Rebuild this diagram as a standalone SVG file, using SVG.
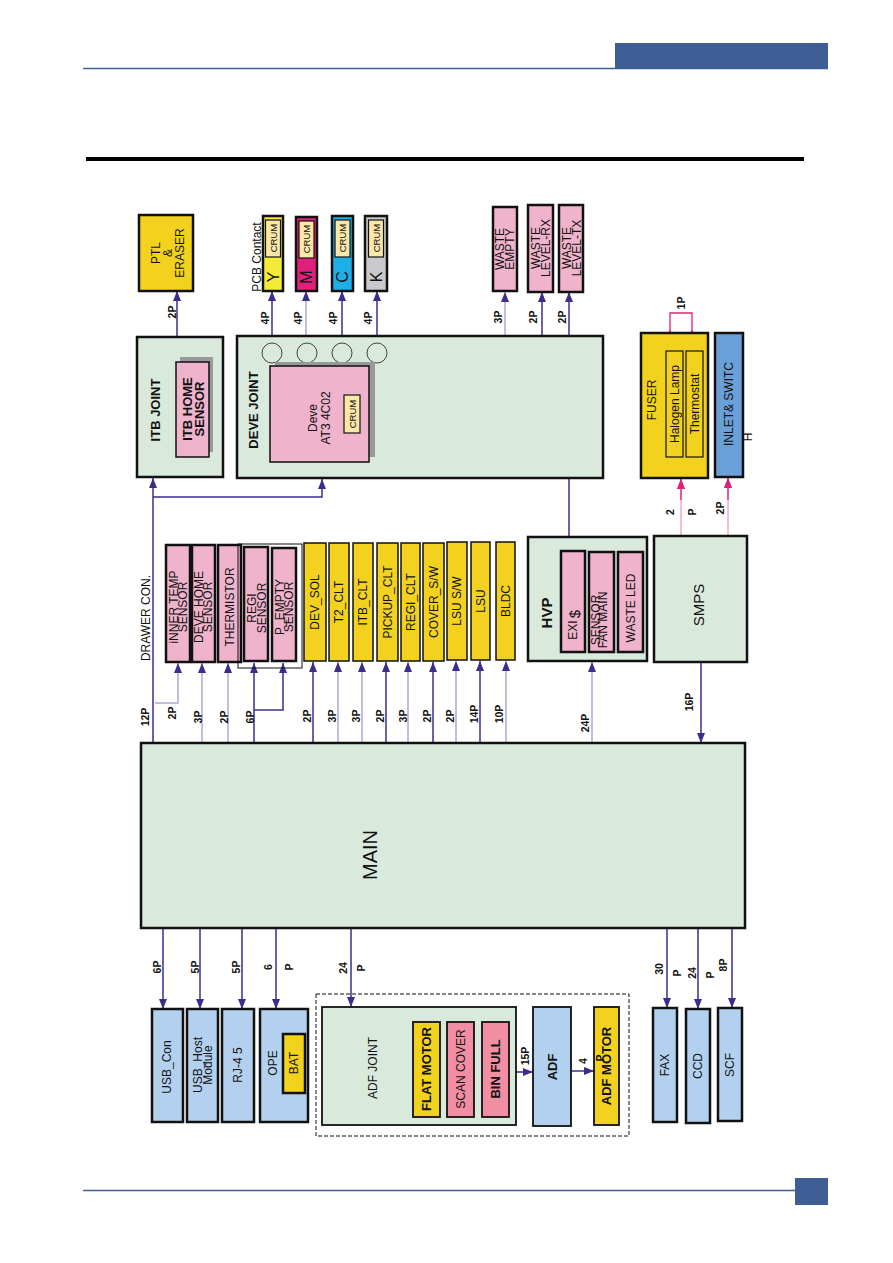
<svg xmlns="http://www.w3.org/2000/svg" width="893" height="1263" viewBox="0 0 893 1263">
<defs>
<marker id="ap" viewBox="0 0 10 8" refX="10" refY="4" markerWidth="10" markerHeight="8" markerUnits="userSpaceOnUse" orient="auto"><path d="M0,0 L10,4 L0,8 z" fill="#3f2b8e"/></marker>
<marker id="ak" viewBox="0 0 10 8" refX="10" refY="4" markerWidth="10" markerHeight="8" markerUnits="userSpaceOnUse" orient="auto"><path d="M0,0 L10,4 L0,8 z" fill="#e0207a"/></marker>
</defs>
<style>
text{font-family:"Liberation Sans",Arial,sans-serif;fill:#111;}
.bx{stroke:#111;stroke-width:2.5;}
.g{fill:#d9e9dc;}
.pk{fill:#f0b3cc;}
.pk2{fill:#f28ea4;}
.y{fill:#f3d21f;}
.lb{fill:#b3d1ee;}
.cr{fill:#fbe8a8;stroke:#111;stroke-width:1.2;}
.sh{fill:#999;}
.t{font-size:12px;text-anchor:middle;dominant-baseline:central;}
.tb{font-size:13px;font-weight:bold;text-anchor:middle;dominant-baseline:central;}
.pl{font-size:10.5px;font-weight:bold;text-anchor:middle;dominant-baseline:central;}
.c{stroke:#3f2b8e;stroke-width:1.5;fill:none;}
.cl{stroke:#b2a8d8;stroke-width:1.5;fill:none;}
.cp{stroke:#e0207a;stroke-width:1.3;fill:none;}
.cpl{stroke:#f2a9c8;stroke-width:1.5;fill:none;}
</style>

<g id="page">
<rect x="615" y="43" width="213" height="25" fill="#3d5f96"/>
<line x1="83" y1="68.5" x2="828" y2="68.5" stroke="#3d5f96" stroke-width="1.5"/>
<rect x="86" y="157" width="718" height="4" fill="#000"/>
<line x1="83" y1="1190.5" x2="828" y2="1190.5" stroke="#3d5f96" stroke-width="1.5"/>
<rect x="795" y="1178" width="33" height="27" fill="#3d5f96"/>
</g>

<g id="connectors">
<line class="c" x1="177" y1="337" x2="177" y2="291" marker-end="url(#ap)"/>
<line class="c" x1="272" y1="335" x2="272" y2="291" marker-end="url(#ap)"/>
<line class="cl" x1="306" y1="335" x2="306" y2="291" marker-end="url(#ap)"/>
<line class="c" x1="342" y1="335" x2="342" y2="291" marker-end="url(#ap)"/>
<line class="c" x1="377" y1="335" x2="377" y2="291" marker-end="url(#ap)"/>
<line class="cl" x1="505" y1="335" x2="505" y2="292" marker-end="url(#ap)"/>
<line class="c" x1="542" y1="335" x2="542" y2="292" marker-end="url(#ap)"/>
<line class="c" x1="569" y1="537" x2="569" y2="292" marker-end="url(#ap)"/>
<line class="c" x1="153" y1="743" x2="153" y2="478" marker-end="url(#ap)"/>
<polyline class="c" points="153,497 322,497 322,479" marker-end="url(#ap)"/>
<polyline class="cl" points="155,703 178,703 178,663" marker-end="url(#ap)"/>
<line class="cl" x1="202" y1="743" x2="202" y2="663" marker-end="url(#ap)"/>
<line class="cl" x1="228" y1="743" x2="228" y2="663" marker-end="url(#ap)"/>
<line class="c" x1="254" y1="743" x2="254" y2="663" marker-end="url(#ap)"/>
<polyline class="c" points="254,710 283,710 283,663" marker-end="url(#ap)"/>
<line class="c" x1="313" y1="743" x2="313" y2="662" marker-end="url(#ap)"/>
<line class="cl" x1="338" y1="743" x2="338" y2="662" marker-end="url(#ap)"/>
<line class="cl" x1="362" y1="743" x2="362" y2="662" marker-end="url(#ap)"/>
<line class="c" x1="386" y1="743" x2="386" y2="662" marker-end="url(#ap)"/>
<line class="cl" x1="408" y1="743" x2="408" y2="662" marker-end="url(#ap)"/>
<line class="c" x1="433" y1="743" x2="433" y2="662" marker-end="url(#ap)"/>
<line class="cl" x1="456" y1="743" x2="456" y2="661" marker-end="url(#ap)"/>
<line class="c" x1="480" y1="743" x2="480" y2="661" marker-end="url(#ap)"/>
<line class="cl" x1="506" y1="743" x2="506" y2="661" marker-end="url(#ap)"/>
<line class="cl" x1="592" y1="743" x2="592" y2="662" marker-end="url(#ap)"/>
<line class="c" x1="701" y1="662" x2="701" y2="743" marker-end="url(#ap)"/>
<line class="cpl" x1="681" y1="537" x2="681" y2="479" marker-end="url(#ak)"/>
<line class="cp" x1="681" y1="500" x2="681" y2="479" marker-end="url(#ak)"/>
<line class="cpl" x1="728" y1="537" x2="728" y2="478" marker-end="url(#ak)"/>
<line class="cp" x1="728" y1="500" x2="728" y2="478" marker-end="url(#ak)"/>
<polyline class="cp" points="670,350 670,313 692,313 692,350"/>
<line class="cp" x1="670" y1="330" x2="670" y2="351" marker-end="url(#ak)"/>
<line class="cp" x1="692" y1="330" x2="692" y2="351" marker-end="url(#ak)"/>
<line class="c" x1="163" y1="928" x2="163" y2="1009" marker-end="url(#ap)"/>
<line class="c" x1="200" y1="928" x2="200" y2="1009" marker-end="url(#ap)"/>
<line class="c" x1="242" y1="928" x2="242" y2="1009" marker-end="url(#ap)"/>
<line class="c" x1="276" y1="928" x2="276" y2="1009" marker-end="url(#ap)"/>
<line class="c" x1="351" y1="928" x2="351" y2="1007" marker-end="url(#ap)"/>
<line class="c" x1="516" y1="1072" x2="533" y2="1072" marker-end="url(#ap)"/>
<line class="c" x1="571" y1="1071" x2="594" y2="1071" marker-end="url(#ap)"/>
<line class="c" x1="667" y1="928" x2="667" y2="1008" marker-end="url(#ap)"/>
<line class="c" x1="698" y1="928" x2="698" y2="1009" marker-end="url(#ap)"/>
<line class="c" x1="732" y1="928" x2="732" y2="1008" marker-end="url(#ap)"/>
<text class="pl" transform="translate(172 312) rotate(-90)">2P</text>
<text class="pl" transform="translate(265 318) rotate(-90)">4P</text>
<text class="pl" transform="translate(298 318) rotate(-90)">4P</text>
<text class="pl" transform="translate(333 318) rotate(-90)">4P</text>
<text class="pl" transform="translate(368 318) rotate(-90)">4P</text>
<text class="pl" transform="translate(498 317) rotate(-90)">3P</text>
<text class="pl" transform="translate(533 317) rotate(-90)">2P</text>
<text class="pl" transform="translate(562 317) rotate(-90)">2P</text>
<text class="pl" transform="translate(681 303) rotate(-90)">1P</text>
<text class="pl" transform="translate(670 512) rotate(-90)">2</text>
<text class="pl" transform="translate(692 512) rotate(-90)">P</text>
<text class="pl" transform="translate(720 508) rotate(-90)">2P</text>
<text class="pl" transform="translate(145 717) rotate(-90)">12P</text>
<text class="pl" transform="translate(172 713) rotate(-90)">2P</text>
<text class="pl" transform="translate(198 717) rotate(-90)">3P</text>
<text class="pl" transform="translate(224 717) rotate(-90)">2P</text>
<text class="pl" transform="translate(250 717) rotate(-90)">6P</text>
<text class="pl" transform="translate(307 716) rotate(-90)">2P</text>
<text class="pl" transform="translate(332 716) rotate(-90)">3P</text>
<text class="pl" transform="translate(356 716) rotate(-90)">3P</text>
<text class="pl" transform="translate(380 716) rotate(-90)">2P</text>
<text class="pl" transform="translate(403 716) rotate(-90)">3P</text>
<text class="pl" transform="translate(427 716) rotate(-90)">2P</text>
<text class="pl" transform="translate(450 716) rotate(-90)">2P</text>
<text class="pl" transform="translate(474 714) rotate(-90)">14P</text>
<text class="pl" transform="translate(499 714) rotate(-90)">10P</text>
<text class="pl" transform="translate(585 723) rotate(-90)">24P</text>
<text class="pl" transform="translate(689 702) rotate(-90)">16P</text>
<text class="pl" transform="translate(157 967) rotate(-90)">6P</text>
<text class="pl" transform="translate(195 967) rotate(-90)">5P</text>
<text class="pl" transform="translate(236 967) rotate(-90)">5P</text>
<text class="pl" transform="translate(268 967) rotate(-90)">6</text>
<text class="pl" transform="translate(289 967) rotate(-90)">P</text>
<text class="pl" transform="translate(343 968) rotate(-90)">24</text>
<text class="pl" transform="translate(361 968) rotate(-90)">P</text>
<text class="pl" transform="translate(525 1056) rotate(-90)">15P</text>
<text class="pl" transform="translate(583 1061) rotate(-90)">4</text>
<text class="pl" transform="translate(659 969) rotate(-90)">30</text>
<text class="pl" transform="translate(677 973) rotate(-90)">P</text>
<text class="pl" transform="translate(692 973) rotate(-90)">24</text>
<text class="pl" transform="translate(710 975) rotate(-90)">P</text>
<text class="pl" transform="translate(723 965) rotate(-90)">8P</text>
<text class="t" transform="translate(146 618) rotate(-90)" font-size="12.5">DRAWER  CON.</text>
<text class="t" transform="translate(257 257) rotate(-90)">PCB  Contact</text>
</g>

<g id="main">
<rect class="bx g" x="141" y="743" width="604" height="185"/>
<text transform="translate(370 855) rotate(-90)" font-size="20" text-anchor="middle" dominant-baseline="central">MAIN</text>
</g>

<g id="ptl">
<rect class="bx y" x="139" y="215" width="54" height="76" stroke-width="1.8"/>
<text class="t" transform="translate(156 253) rotate(-90)" font-size="13">PTL</text>
<text class="t" transform="translate(168 253) rotate(-90)" font-size="13">&amp;</text>
<text class="t" transform="translate(180 253) rotate(-90)" font-size="13">ERASER</text>
</g>

<g id="cart-y">
<rect class="bx" x="263" y="216" width="20" height="75" fill="#f5ea36" stroke-width="1.8"/>
<rect class="cr" x="265.5" y="220" width="15" height="37"/>
<text transform="translate(273 238) rotate(-90)" font-size="9.5" text-anchor="middle" dominant-baseline="central">CRUM</text>
<text transform="translate(273 277) rotate(-90)" font-size="16" text-anchor="middle" dominant-baseline="central">Y</text>
</g>
<g id="cart-m">
<rect class="bx" x="296" y="217" width="21" height="74" fill="#e0207a" stroke-width="1.8"/>
<rect class="cr" x="299" y="221" width="15" height="37"/>
<text transform="translate(306.5 239) rotate(-90)" font-size="9.5" text-anchor="middle" dominant-baseline="central">CRUM</text>
<text transform="translate(306.5 277) rotate(-90)" font-size="16" text-anchor="middle" dominant-baseline="central">M</text>
</g>
<g id="cart-c">
<rect class="bx" x="332" y="216" width="21" height="75" fill="#1eaee8" stroke-width="1.8"/>
<rect class="cr" x="335" y="220" width="15" height="37"/>
<text transform="translate(342.5 238) rotate(-90)" font-size="9.5" text-anchor="middle" dominant-baseline="central">CRUM</text>
<text transform="translate(342.5 277) rotate(-90)" font-size="16" text-anchor="middle" dominant-baseline="central">C</text>
</g>
<g id="cart-k">
<rect class="bx" x="365" y="216" width="22" height="75" fill="#c9c9cc" stroke-width="1.8"/>
<rect class="cr" x="368.5" y="220" width="15" height="37"/>
<text transform="translate(376 238) rotate(-90)" font-size="9.5" text-anchor="middle" dominant-baseline="central">CRUM</text>
<text transform="translate(376 277) rotate(-90)" font-size="16" text-anchor="middle" dominant-baseline="central">K</text>
</g>

<g id="waste-empty">
<rect class="bx pk" x="493" y="207" width="24" height="84" stroke-width="1.8"/>
<text class="t" transform="translate(500 249) rotate(-90)">WASTE</text>
<text class="t" transform="translate(510 249) rotate(-90)">EMPTY</text>
</g>
<g id="waste-rx">
<rect class="bx pk" x="528" y="205" width="25" height="87" stroke-width="1.8"/>
<text class="t" transform="translate(536 248) rotate(-90)">WASTE</text>
<text class="t" transform="translate(546 248) rotate(-90)">LEVEL-RX</text>
</g>
<g id="waste-tx">
<rect class="bx pk" x="559" y="205" width="24" height="87" stroke-width="1.8"/>
<text class="t" transform="translate(567 248) rotate(-90)">WASTE</text>
<text class="t" transform="translate(577 248) rotate(-90)">LEVEL-TX</text>
</g>

<g id="itb-joint">
<rect class="bx g" x="137" y="337" width="86" height="140"/>
<rect class="sh" x="180" y="357" width="33" height="95"/>
<rect class="pk" x="176" y="362" width="33" height="95" stroke="#111" stroke-width="1.5"/>
<text class="tb" transform="translate(155 410) rotate(-90)">ITB   JOINT</text>
<text class="tb" transform="translate(187 409) rotate(-90)">ITB HOME</text>
<text class="tb" transform="translate(199 409) rotate(-90)">SENSOR</text>
</g>

<g id="deve-joint">
<rect class="bx g" x="237" y="336" width="366" height="142"/>
<circle cx="272" cy="353" r="10" fill="none" stroke="#444" stroke-width="1"/>
<circle cx="307" cy="353" r="10" fill="none" stroke="#444" stroke-width="1"/>
<circle cx="342" cy="353" r="10" fill="none" stroke="#444" stroke-width="1"/>
<circle cx="377" cy="353" r="10" fill="none" stroke="#444" stroke-width="1"/>
<rect class="sh" x="275" y="362" width="100" height="95"/>
<rect class="pk" x="270" y="366" width="99" height="96" stroke="#111" stroke-width="1.5"/>
<rect class="cr" x="344" y="395" width="16" height="38"/>
<text transform="translate(352 414) rotate(-90)" font-size="9.5" text-anchor="middle" dominant-baseline="central">CRUM</text>
<text class="tb" transform="translate(253 410) rotate(-90)">DEVE  JOINT</text>
<text class="t" transform="translate(313 418) rotate(-90)" font-size="12.5">Deve</text>
<text class="t" transform="translate(326 418) rotate(-90)" font-size="12.5">AT3 4C02</text>
</g>

<g id="fuser">
<rect class="bx y" x="641" y="333" width="67" height="145"/>
<rect x="666" y="351" width="17" height="106" fill="none" stroke="#111" stroke-width="1.2"/>
<rect x="686" y="351" width="17" height="106" fill="none" stroke="#111" stroke-width="1.2"/>
<text class="t" transform="translate(652 400) rotate(-90)" font-size="13">FUSER</text>
<text class="t" transform="translate(675 404) rotate(-90)" font-size="12.5">Halogen  Lamp</text>
<text class="t" transform="translate(695 404) rotate(-90)" font-size="12.5">Thermostat</text>
</g>

<g id="inlet">
<rect class="bx" x="715" y="333" width="28" height="144" fill="#6a9fd8"/>
<text class="t" transform="translate(729 404) rotate(-90)" font-size="12.5">INLET&amp;  SWITC</text>
<text class="t" transform="translate(748 437) rotate(-90)" font-size="12.5">H</text>
</g>

<g id="sensors">
<rect class="bx pk" x="166" y="545" width="24" height="117"/>
<text class="t" transform="translate(173.5 607) rotate(-90)" font-size="11.5">iNNER  TEMP</text>
<text class="t" transform="translate(183 607) rotate(-90)" font-size="11.5">SENSOR</text>
<rect class="bx pk" x="192" y="545" width="23" height="117"/>
<text class="t" transform="translate(199 607) rotate(-90)" font-size="11.5">DEVE  HOME</text>
<text class="t" transform="translate(208 607) rotate(-90)" font-size="11.5">SENSOR</text>
<rect class="bx pk" x="218" y="545" width="23" height="117"/>
<text class="t" transform="translate(229.5 607) rotate(-90)" font-size="11.5">THERMISTOR</text>
<rect x="238" y="544" width="64" height="124" fill="none" stroke="#111" stroke-width="1"/>
<rect class="bx pk" x="244" y="547" width="24" height="114"/>
<text class="t" transform="translate(252 608) rotate(-90)" font-size="11.5">REGI</text>
<text class="t" transform="translate(262 608) rotate(-90)" font-size="11.5">SENSOR</text>
<rect class="bx pk" x="272" y="548" width="24" height="113"/>
<text class="t" transform="translate(280 607) rotate(-90)" font-size="11.5">P_EMPTY</text>
<text class="t" transform="translate(289 607) rotate(-90)" font-size="11.5">SENSOR</text>
</g>

<g id="actuators">
<rect class="y" x="304" y="543" width="22" height="118" stroke="#111" stroke-width="1.5"/>
<text class="t" transform="translate(315 602) rotate(-90)">DEV_SOL</text>
<rect class="y" x="329" y="543" width="20" height="118" stroke="#111" stroke-width="1.5"/>
<text class="t" transform="translate(339 602) rotate(-90)">T2_CLT</text>
<rect class="y" x="353" y="543" width="20" height="118" stroke="#111" stroke-width="1.5"/>
<text class="t" transform="translate(363 602) rotate(-90)">ITB_CLT</text>
<rect class="y" x="377" y="543" width="21" height="118" stroke="#111" stroke-width="1.5"/>
<text class="t" transform="translate(387.5 602) rotate(-90)">PICKUP_CLT</text>
<rect class="y" x="401" y="543" width="19" height="118" stroke="#111" stroke-width="1.5"/>
<text class="t" transform="translate(410.5 602) rotate(-90)">REGI_CLT</text>
<rect class="y" x="423" y="543" width="21" height="118" stroke="#111" stroke-width="1.5"/>
<text class="t" transform="translate(433.5 602) rotate(-90)">COVER_S/W</text>
<rect class="y" x="447" y="542" width="20" height="118" stroke="#111" stroke-width="1.5"/>
<text class="t" transform="translate(457 601) rotate(-90)">LSU  S/W</text>
<rect class="y" x="471" y="542" width="19" height="118" stroke="#111" stroke-width="1.5"/>
<text class="t" transform="translate(480.5 601) rotate(-90)">LSU</text>
<rect class="y" x="496" y="542" width="19" height="118" stroke="#111" stroke-width="1.5"/>
<text class="t" transform="translate(505.5 601) rotate(-90)">BLDC</text>
</g>

<g id="hvp">
<rect class="bx g" x="528" y="537" width="119" height="124"/>
<text transform="translate(546 613) rotate(-90)" font-size="15" font-weight="bold" text-anchor="middle" dominant-baseline="central">HVP</text>
<rect class="bx pk" x="561" y="551" width="24" height="101"/>
<text class="t" transform="translate(573 630) rotate(-90)">EXI</text>
<text transform="translate(574 614) rotate(-90)" font-size="15" text-anchor="middle" dominant-baseline="central">$</text>
<rect class="bx pk" x="589" y="552" width="25" height="100"/>
<text class="t" transform="translate(596 620) rotate(-90)">SENSOR</text>
<text class="t" transform="translate(603 620) rotate(-90)">FAN  MAIN</text>
<rect class="bx pk" x="618" y="552" width="25" height="100"/>
<text class="t" transform="translate(630.5 608) rotate(-90)">WASTE  LED</text>
</g>

<g id="smps">
<rect class="bx g" x="654" y="536" width="93" height="126"/>
<text transform="translate(698 605) rotate(-90)" font-size="15" text-anchor="middle" dominant-baseline="central">SMPS</text>
</g>

<g id="usb-con">
<rect class="bx lb" x="152" y="1009" width="31" height="113" stroke-width="1.8"/>
<text class="t" transform="translate(167 1067) rotate(-90)" font-size="12.5">USB_Con</text>
</g>
<g id="usb-host">
<rect class="bx lb" x="187" y="1009" width="31" height="113" stroke-width="1.8"/>
<text class="t" transform="translate(198 1065) rotate(-90)" font-size="12.5">USB_Host</text>
<text class="t" transform="translate(208 1065) rotate(-90)" font-size="12.5">Module</text>
</g>
<g id="rj45">
<rect class="bx lb" x="222" y="1009" width="32" height="113" stroke-width="1.8"/>
<text class="t" transform="translate(238 1065) rotate(-90)" font-size="12.5">RJ-4 5</text>
</g>
<g id="ope">
<rect class="bx lb" x="260" y="1009" width="48" height="113" stroke-width="1.8"/>
<text class="t" transform="translate(273 1063) rotate(-90)" font-size="12.5">OPE</text>
<rect class="bx y" x="283" y="1034" width="22" height="59" stroke-width="1.8"/>
<text class="t" transform="translate(294 1063) rotate(-90)" font-size="12.5">BAT</text>
</g>

<g id="adf-group">
<rect x="316" y="994" width="313" height="142" fill="none" stroke="#111" stroke-width="1" stroke-dasharray="4,2"/>
</g>
<g id="adf-joint">
<rect class="g" x="322" y="1007" width="194" height="118" stroke="#111" stroke-width="1.8"/>
<text class="t" transform="translate(373 1068) rotate(-90)" font-size="13">ADF  JOINT</text>
<rect class="y" x="413" y="1022" width="27" height="95" stroke="#111" stroke-width="1.8"/>
<text class="tb" transform="translate(426.5 1069) rotate(-90)">FLAT  MOTOR</text>
<rect class="pk2" x="447" y="1022" width="27" height="95" stroke="#111" stroke-width="1.8"/>
<text class="t" transform="translate(460.5 1069) rotate(-90)" font-size="12.5">SCAN  COVER</text>
<rect class="pk2" x="482" y="1022" width="27" height="95" stroke="#111" stroke-width="1.8"/>
<text class="tb" transform="translate(495.5 1069) rotate(-90)">BIN  FULL</text>
</g>
<g id="adf">
<rect class="lb" x="533" y="1007" width="38" height="119" stroke="#111" stroke-width="1.8"/>
<text class="tb" transform="translate(552 1067) rotate(-90)">ADF</text>
</g>
<g id="adf-motor">
<rect class="y" x="594" y="1007" width="25" height="118" stroke="#111" stroke-width="1.8"/>
<text class="tb" transform="translate(606.5 1066) rotate(-90)">ADF  MOTOR</text>
<text class="pl" transform="translate(600 1058) rotate(-90)" font-weight="normal">P</text>
</g>

<g id="fax">
<rect class="bx lb" x="653" y="1008" width="24" height="114" stroke-width="1.8"/>
<text class="t" transform="translate(665 1065) rotate(-90)" font-size="12.5">FAX</text>
</g>
<g id="ccd">
<rect class="bx lb" x="686" y="1009" width="24" height="114" stroke-width="1.8"/>
<text class="t" transform="translate(698 1066) rotate(-90)" font-size="12.5">CCD</text>
</g>
<g id="scf">
<rect class="bx lb" x="718" y="1008" width="24" height="113" stroke-width="1.8"/>
<text class="t" transform="translate(730 1065) rotate(-90)" font-size="12.5">SCF</text>
</g>
</svg>
